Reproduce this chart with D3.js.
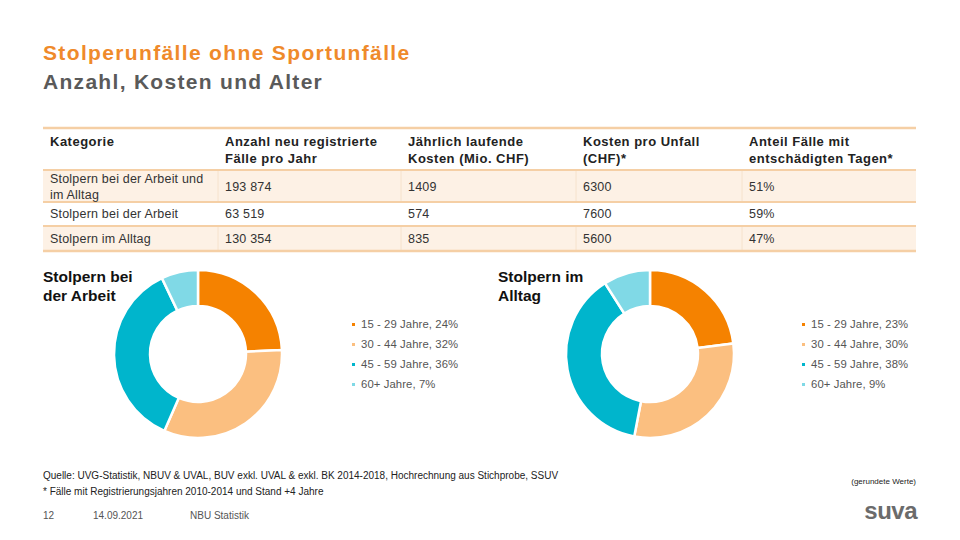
<!DOCTYPE html>
<html><head><meta charset="utf-8">
<script src="https://cdn.jsdelivr.net/npm/d3@7"></script>
<style>
html,body{margin:0;padding:0;background:#fff;}
svg{display:block;font-family:"Liberation Sans",Arial,sans-serif;}
</style></head>
<body>
<svg id="c" width="960" height="540"></svg>
<script>
// ---- data ----
const headers = [["Kategorie"],["Anzahl neu registrierte","Fälle pro Jahr"],["Jährlich laufende","Kosten (Mio. CHF)"],["Kosten pro Unfall","(CHF)*"],["Anteil Fälle mit","entschädigten Tagen*"]];
const categories = [["Stolpern bei der Arbeit und","im Alltag"],["Stolpern bei der Arbeit"],["Stolpern im Alltag"]];
const anzahl = ["193 874","63 519","130 354"];
const kostenMio = ["1409","574","835"];
const kostenProUnfall = ["6300","7600","5600"];
const anteil = ["51%","59%","47%"];
const ageGroups = ["15 - 29 Jahre","30 - 44 Jahre","45 - 59 Jahre","60+ Jahre"];
const arbeitShares = [24,32,36,7];
const alltagShares = [23,30,38,9];
const ageColors = ["#f58200","#fbbf80","#00b5cc","#80d9e6"];

const svg = d3.select("#c");

// ---- titles ----
svg.append("text").attr("x",43).attr("y",60).attr("font-size",21).attr("font-weight","bold").attr("letter-spacing",1.35).attr("fill","#ef8a2b").text("Stolperunfälle ohne Sportunfälle");
svg.append("text").attr("x",43).attr("y",89).attr("font-size",21).attr("font-weight","bold").attr("letter-spacing",1.3).attr("fill","#5a5a5a").text("Anzahl, Kosten und Alter");

// ---- table ----
const colX = [50,225,408,583,749];
const tableL = 43, tableR = 916;
const rowTop = [128,170,202,226,251];
const g = svg.append("g");
[0,2].forEach(i=>{
  g.append("rect").attr("x",tableL).attr("y",rowTop[i+1]).attr("width",tableR-tableL).attr("height",rowTop[i+2]-rowTop[i+1]).attr("fill","#fdf1e5");
});
[0,2].forEach(i=>{
  colX.slice(1).forEach(x=>{
    g.append("line").attr("x1",x-7).attr("x2",x-7).attr("y1",rowTop[i+1]).attr("y2",rowTop[i+2]).attr("stroke","#f6e2cc").attr("stroke-width",1);
  });
});
rowTop.forEach((y,i)=>{
  g.append("line").attr("x1",tableL).attr("x2",tableR).attr("y1",y).attr("y2",y)
   .attr("stroke","#f5cfa5").attr("stroke-width",i===0||i===4?2.5:2);
});
headers.forEach((h,j)=>{
  h.forEach((t,k)=>{
    g.append("text").attr("x",colX[j]).attr("y",146+k*17).attr("font-size",13).attr("font-weight","bold").attr("letter-spacing",0.5).attr("fill","#222").text(t);
  });
});
const rowBase = [191,218,243];
function cell(x,y,t){
  g.append("text").attr("x",x).attr("y",y).attr("font-size",12.5).attr("letter-spacing",0.2).attr("fill","#333").text(t);
}
categories.forEach((c,i)=>{
  if(c.length===2){ cell(colX[0],rowBase[i]-8,c[0]); cell(colX[0],rowBase[i]+8,c[1]); }
  else cell(colX[0],rowBase[i],c[0]);
  [anzahl[i],kostenMio[i],kostenProUnfall[i],anteil[i]].forEach((v,j)=>cell(colX[j+1],rowBase[i],v));
});

// ---- donuts ----
const pie = d3.pie().sort(null).value(d=>d);
const arc = d3.arc().innerRadius(48).outerRadius(84);
function donut(cx, cy, shares, titleLines, titleX, legX){
  const dg = svg.append("g").attr("transform",`translate(${cx},${cy})`);
  dg.selectAll("path").data(pie(shares)).join("path")
    .attr("d",arc).attr("fill",(d,i)=>ageColors[i]).attr("stroke","#fff").attr("stroke-width",2.5);
  titleLines.forEach((t,k)=>{
    svg.append("text").attr("x",titleX).attr("y",282+k*19).attr("font-size",15.5).attr("font-weight","bold").attr("fill","#111").text(t);
  });
  const y = d3.scalePoint().domain(ageGroups).range([328,388]);
  ageGroups.forEach((a,i)=>{
    svg.append("rect").attr("x",legX-9).attr("y",y(a)-5).attr("width",3).attr("height",3).attr("fill",ageColors[i]);
    svg.append("text").attr("x",legX).attr("y",y(a)).attr("font-size",11.3).attr("letter-spacing",0.1).attr("fill","#555").text(`${a}, ${shares[i]}%`);
  });
}
donut(198,354,arbeitShares,["Stolpern bei","der Arbeit"],43,361);
donut(650,354,alltagShares,["Stolpern im","Alltag"],498,811);

// ---- footer ----
svg.append("text").attr("x",43).attr("y",479).attr("font-size",10).attr("fill","#222").text("Quelle: UVG-Statistik, NBUV & UVAL, BUV exkl. UVAL & exkl. BK 2014-2018, Hochrechnung aus Stichprobe, SSUV");
svg.append("text").attr("x",43).attr("y",495).attr("font-size",10).attr("fill","#222").text("* Fälle mit Registrierungsjahren 2010-2014 und Stand +4 Jahre");
svg.append("text").attr("x",43).attr("y",519).attr("font-size",10).attr("fill","#555").text("12");
svg.append("text").attr("x",93).attr("y",519).attr("font-size",10).attr("fill","#555").text("14.09.2021");
svg.append("text").attr("x",190).attr("y",519).attr("font-size",10).attr("fill","#555").text("NBU Statistik");
svg.append("text").attr("x",916).attr("y",484).attr("text-anchor","end").attr("font-size",8).attr("fill","#222").text("(gerundete Werte)");
svg.append("text").attr("x",917).attr("y",519).attr("text-anchor","end").attr("font-size",24).attr("font-weight","bold").attr("fill","#6b6b6b").attr("letter-spacing",-0.5).text("suva");
</script>
</body></html>
